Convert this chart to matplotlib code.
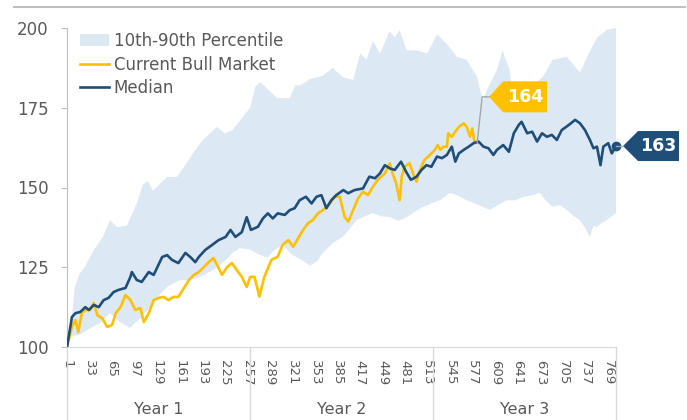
import numpy as np
import matplotlib.pyplot as plt
from matplotlib.lines import Line2D
from matplotlib.patches import Polygon
from matplotlib.transforms import IdentityTransform

# trading days since start of bull market, index = 100 at day 1
upper_days = [1, 5, 9, 12, 19, 26, 38, 52, 62, 72, 86, 100, 109, 116, 123, 143, 157, 171, 180, 194,
              204, 214, 225, 236, 250, 261, 268, 275, 285, 299, 317, 325, 332, 346, 364, 378, 392, 407,
              417, 426, 435, 445, 459, 466, 473, 483, 497, 512, 526, 540, 554, 568, 583, 591, 597, 611,
              619, 629, 634, 645, 658, 676, 690, 710, 729, 739, 753, 767, 780]
upper_vals = [100, 105, 111.6, 118.8, 123, 125, 130, 134.5, 139.8, 137.6, 138, 145, 151, 152, 149, 153.3,
              153.3, 157.7, 160.8, 165, 167, 169, 167, 168, 172, 175, 181.5, 183, 181, 178, 178, 182, 182,
              184, 185, 187.5, 184.6, 183.7, 192, 190, 196, 192, 199, 197, 199.4, 193, 193, 192, 198, 195,
              191, 190, 184.6, 177, 180.6, 186.8, 193, 186.8, 178, 180, 181.5, 184.6, 190, 191, 186, 191,
              197, 199.4, 200]

lower_days = [1, 5, 10, 20, 35, 48, 62, 75, 90, 105, 119, 131, 143, 161, 175, 190, 203, 214, 225, 236,
              246, 261, 273, 285, 296, 307, 320, 332, 346, 356, 364, 378, 392, 402, 412, 424, 435, 447,
              459, 471, 483, 495, 506, 518, 530, 544, 556, 568, 580, 591, 601, 613, 625, 637, 648, 660,
              672, 680, 690, 700, 710, 720, 729, 737, 743, 748, 753, 760, 767, 774, 780]
lower_vals = [100, 103, 103.5, 104, 106, 107.5, 110.6, 108, 106, 109, 112.5, 116, 118.8, 121, 121, 122,
              123.5, 125, 127, 129.5, 131, 130.5, 129, 128, 130.5, 132, 129, 127.5, 125.5, 127, 129.5,
              132.6, 134.5, 137, 139.8, 141, 142, 141, 140.7, 139.5, 140.7, 142.5, 143.9, 145, 146, 148.3,
              147.5, 146, 145, 143.9, 143, 144.5, 146, 146, 147, 147.5, 148.3, 146, 143.9, 144.5, 143,
              141, 139.8, 137, 134.5, 138, 137.6, 139, 139.8, 141, 142]

median_days = [1, 8, 13, 20, 27, 32, 39, 46, 53, 60, 67, 74, 84, 91, 93, 100, 107, 117, 124, 136,
               143, 150, 159, 169, 176, 183, 188, 197, 207, 216, 226, 233, 240, 249, 256, 262, 272, 279,
               286, 293, 300, 310, 317, 324, 331, 340, 348, 355, 362, 369, 376, 383, 393, 400, 409, 421,
               430, 438, 445, 452, 459, 466, 475, 482, 489, 497, 504, 511, 518, 526, 533, 540, 547, 552,
               557, 564, 571, 578, 585, 592, 599, 606, 611, 620, 628, 635, 642, 646, 654, 661, 668, 675,
               682, 689, 696, 703, 713, 722, 729, 736, 743, 748, 753, 758, 762, 769, 774, 780]
median_vals = [100, 109.4, 110.6, 111, 112.5, 111.6, 113.2, 112.5, 114.7, 115.4, 117.2, 117.9, 118.5, 122,
               123.5, 121, 120.4, 123.5, 122.6, 128.2, 128.8, 127.3, 126.3, 129.5, 128.2, 126.6, 128.2,
               130.4, 132, 133.5, 134.5, 136.7, 134.5, 136, 140.7, 136.7, 137.7, 140.3, 141.9, 140.3,
               141.9, 141.4, 142.9, 143.5, 146, 147.1, 145, 147.1, 147.6, 143.5, 146, 147.6, 149.2, 148.2,
               149.2, 149.7, 153.4, 152.9, 154.4, 157, 156, 155.5, 158.1, 155, 152.4, 153.4, 155.5, 157,
               156.5, 159.7, 159.2, 160.2, 162.8, 158.1, 160.7, 161.8, 162.8, 163.9, 164.4, 162.8, 162.3,
               160.2, 161.8, 163.3, 161.2, 167, 169.6, 170.6, 167, 167.5, 164.4, 167, 165.9, 166.5, 164.9,
               168, 169.6, 171.2, 170.1, 168, 164.9, 162.3, 162.8, 157, 162.8, 163.9, 160.7, 163]

bull_days = [1, 8, 13, 17, 22, 27, 34, 39, 44, 51, 58, 65, 70, 77, 84, 91, 98, 105, 110, 117,
             124, 131, 138, 145, 152, 159, 167, 174, 181, 188, 195, 202, 209, 214, 221, 228, 235, 242,
             249, 256, 261, 267, 274, 281, 291, 300, 307, 315, 322, 329, 336, 343, 350, 357, 364, 374,
             381, 388, 395, 400, 407, 414, 421, 428, 435, 442, 452, 459, 463, 468, 473, 476, 480, 487,
             492, 497, 501, 508, 516, 523, 527, 531, 535, 540, 542, 547, 552, 557, 564, 568, 573, 576,
             579, 583]
bull_vals = [100, 106.3, 108.5, 104.7, 110.6, 111.6, 111.6, 113.8, 110, 109, 106.3, 106.9, 110.6, 112.5,
             116.3, 114.7, 111.6, 112.2, 107.8, 110.6, 114.7, 115.4, 115.7, 114.7, 115.7, 115.7, 118.5,
             121, 122.6, 123.5, 125, 126.6, 127.9, 125.7, 122.6, 125, 126.3, 124.1, 122, 118.8, 122, 122,
             115.8, 122, 127.3, 128.3, 132, 133.5, 131.4, 134.1, 136.7, 138.8, 139.8, 141.9, 142.9, 145,
             147.1, 147.1, 140.8, 139.3, 142.9, 146.6, 148.7, 147.6, 150.2, 152.4, 154.4, 157.6, 154.4,
             151.3, 146, 153.4, 156.5, 157.6, 154.4, 151.8, 155, 158.6, 160.2, 161.8, 163.3, 161.8, 162.8,
             162.8, 167, 165.9, 167.5, 169, 170.1, 169, 165.9, 168.5, 164.4, 164]

tick_days = list(range(1, 770, 32))
years = ["Year 1", "Year 2", "Year 3"]
year_edges = [1, 260.5, 520.5, 780]

BAND = "#dde8f5"
GOLD = "#ffc000"
NAVY = "#1f4e79"
GREY = "#595959"

fig = plt.figure(figsize=(6.87, 4.2), dpi=100)
ax = fig.add_axes([67 / 687, 73 / 420, 549 / 687, 319 / 420])

ax.fill(np.concatenate([upper_days, lower_days[::-1]]),
        np.concatenate([upper_vals, lower_vals[::-1]]),
        color=BAND, lw=0, label="10th-90th Percentile", zorder=1)
ax.plot(bull_days, bull_vals, color=GOLD, lw=1.9, label="Current Bull Market", zorder=2)
ax.plot(median_days, median_vals, color=NAVY, lw=1.9, label="Median", zorder=3)
ax.plot(median_days[-1], median_vals[-1], "o", color=NAVY, ms=6, zorder=4, clip_on=False)

ax.set_xlim(1, 780)
ax.set_ylim(100, 200)
ax.set_yticks([100, 125, 150, 175, 200])
ax.set_xticks(tick_days)
ax.set_xticklabels([str(d) for d in tick_days], rotation=-90)

for s in ["top", "right"]:
    ax.spines[s].set_visible(False)
ax.spines["left"].set_color("#bfbfbf")
ax.spines["bottom"].set_color("#d9d9d9")
ax.tick_params(axis="y", length=4.3, color="#bfbfbf", labelcolor=GREY, labelsize=12, pad=9)
ax.tick_params(axis="x", length=0, labelcolor=GREY, labelsize=9.5, pad=9)

# year groups under the day labels
for xv in year_edges:
    ax.plot([xv, xv], [0, -0.235], transform=ax.get_xaxis_transform(), color="#d9d9d9",
            lw=1, clip_on=False)
for i, name in enumerate(years):
    ax.text((year_edges[i] + year_edges[i + 1]) / 2, -0.197, name, transform=ax.get_xaxis_transform(),
            ha="center", va="center", color=GREY, fontsize=11.5)

ax.legend(loc="upper left", bbox_to_anchor=(0.024, 0.987), frameon=False, fontsize=12,
          labelcolor=GREY, handlelength=1.7, handleheight=0.72, handletextpad=0.3,
          labelspacing=0.33, borderaxespad=0, borderpad=0)

fig.add_artist(Line2D([14 / 687, 685 / 687], [413 / 420, 413 / 420], color="#bfbfbf", lw=1.5))

# value callouts, drawn in pixels next to the last point of each line
ident = IdentityTransform()


def callout(x, y, text, color, lead, tip, left, right, half):
    px, py = ax.transData.transform((x, y))
    tx, ty = px + tip[0], py + tip[1]
    fig.add_artist(Line2D([px] + [px + d[0] for d in lead], [py] + [py + d[1] for d in lead],
                          color="#a6a6a6", lw=1, transform=ident))
    poly = Polygon([(tx, ty), (px + left, ty + half), (px + right, ty + half),
                    (px + right, ty - half), (px + left, ty - half)],
                   closed=True, facecolor=color, edgecolor="none", transform=ident)
    fig.add_artist(poly)
    fig.text(px + (left + right) / 2, ty, text, transform=ident, ha="center", va="center",
             color="white", fontsize=12.5, fontweight="bold")


callout(bull_days[-1], bull_vals[-1], "%d" % round(bull_vals[-1]), GOLD,
        [(5, 46), (12, 46)], (12, 46), 26, 70, 15.5)
callout(median_days[-1], median_vals[-1], "%d" % round(median_vals[-1]), NAVY,
        [(7, 0)], (7, 0), 22, 63, 15)

fig.savefig("out.png", dpi=100)
